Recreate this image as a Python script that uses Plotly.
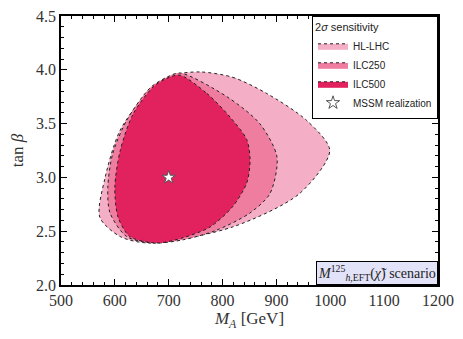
import plotly.graph_objects as go

# contour points (M_A in GeV, tan beta)
hl_lhc_ma = [758, 819, 882, 956, 999, 943, 819, 665, 610, 572, 582, 610, 665, 708, 758]
hl_lhc_tb = [3.98, 3.93, 3.78, 3.53, 3.25, 2.85, 2.54, 2.39, 2.45, 2.63, 3.0, 3.44, 3.81, 3.95, 3.98]

ilc250_ma = [721, 808, 869, 901, 888, 851, 789, 727, 671, 622, 591, 587, 596, 622, 665, 696, 721]
ilc250_tb = [3.97, 3.75, 3.5, 3.19, 2.85, 2.67, 2.51, 2.42, 2.39, 2.45, 2.67, 2.91, 3.22, 3.53, 3.83, 3.93, 3.97]

ilc500_ma = [721, 771, 814, 845, 851, 845, 819, 777, 727, 678, 628, 606, 600, 610, 634, 671, 696, 721]
ilc500_tb = [3.95, 3.78, 3.56, 3.35, 3.16, 2.95, 2.73, 2.54, 2.44, 2.39, 2.45, 2.63, 2.91, 3.25, 3.59, 3.84, 3.92, 3.95]

mssm_ma = [700]
mssm_tb = [3.0]

fig = go.Figure()

regions = [
    ('HL-LHC', hl_lhc_ma, hl_lhc_tb, '#F4AEC6'),
    ('ILC250', ilc250_ma, ilc250_tb, '#EE7DA0'),
    ('ILC500', ilc500_ma, ilc500_tb, '#E2225F'),
]
for name, x, y, col in regions:
    fig.add_trace(go.Scatter(
        x=x, y=y, mode='lines', fill='toself', fillcolor=col, name=name,
        line=dict(color='#222222', width=1, dash='dot', shape='spline', smoothing=0.8),
    ))

fig.add_trace(go.Scatter(
    x=mssm_ma, y=mssm_tb, mode='markers', name='MSSM realization',
    marker=dict(symbol='star', size=10, color='white', line=dict(color='#555555', width=1)),
))

serif = 'Liberation Serif'
axis_common = dict(
    showgrid=False, zeroline=False, showline=True, linecolor='black', linewidth=1.5,
    mirror='ticks', ticks='inside', ticklen=6, tickcolor='black', tickwidth=1.2,
    tickfont=dict(family=serif, size=16, color='#333333'), automargin=False,
    ticklabeloverflow='allow',
)
fig.update_xaxes(
    range=[500, 1200], dtick=100,
    title=dict(text='<i>M<sub>A</sub></i> [GeV]', standoff=4,
               font=dict(family=serif, size=17, color='#333333')),
    minor=dict(ticks='inside', ticklen=3, dtick=20, tickcolor='black'), **axis_common)
fig.update_yaxes(
    range=[2.0, 4.5], dtick=0.5, tickformat='.1f',
    title=dict(text='tan <i>β</i>', standoff=8, font=dict(family=serif, size=17, color='#333333')),
    minor=dict(ticks='inside', ticklen=3, dtick=0.1, tickcolor='black'), **axis_common)

fig.add_annotation(
    x=1, y=0, xref='paper', yref='paper', xanchor='right', yanchor='bottom',
    text='<i>M</i><sup>125</sup><sub><i>h</i>,EFT</sub>(<i>χ̃</i>) scenario', showarrow=False,
    bgcolor='#E2E2F8', bordercolor='black', borderwidth=1, borderpad=1,
    font=dict(family=serif, size=14, color='#222222'),
)

# the page body adds an 8px margin, so the figure is drawn 8px smaller
fig.update_layout(
    width=455, height=331,
    margin=dict(l=53, r=25, t=8, b=54),
    paper_bgcolor='white', plot_bgcolor='white',
    legend=dict(
        x=1, y=1, xanchor='right', yanchor='top',
        title=dict(text='2<i>σ</i> sensitivity', font=dict(family='Liberation Sans', size=11)),
        font=dict(family='Liberation Sans', size=10, color='#222222'),
        bordercolor='black', borderwidth=1, bgcolor='white',
        itemsizing='trace', tracegroupgap=0,
    ),
)

fig.write_html("out.html")
